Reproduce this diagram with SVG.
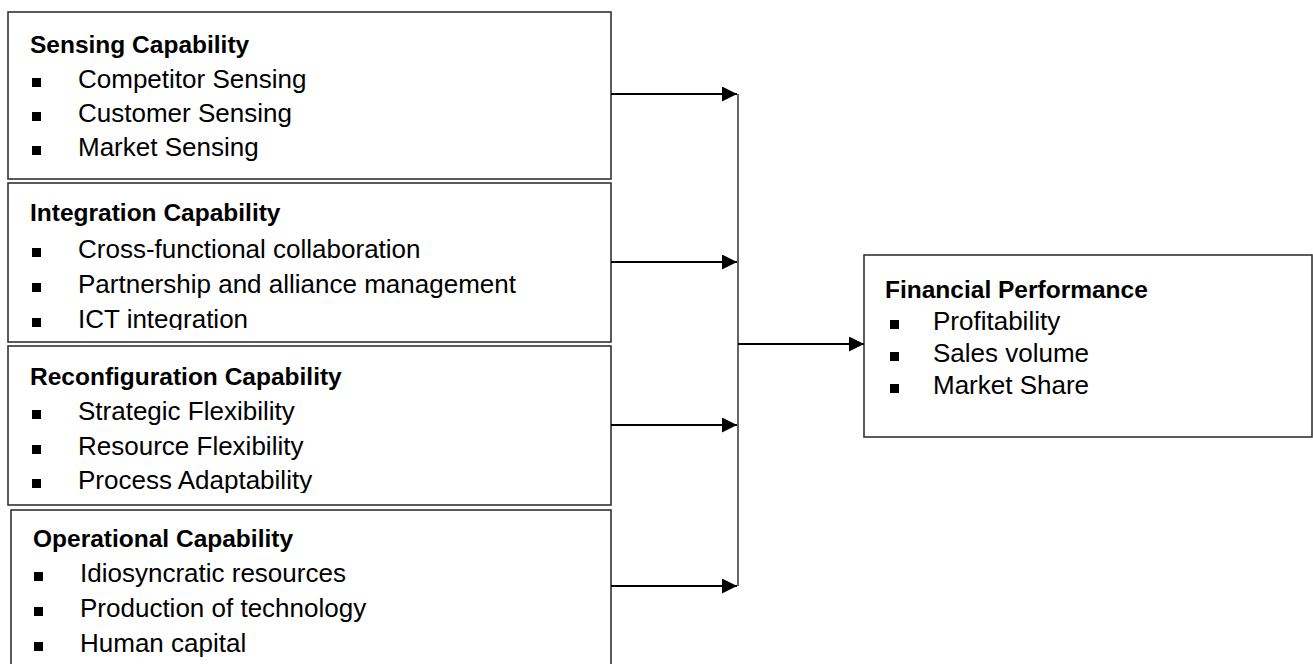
<svg xmlns="http://www.w3.org/2000/svg" width="1313" height="664" viewBox="0 0 1313 664">
<style>
.box{fill:#fff;stroke:#333;stroke-width:1.6}
.t{font-family:"Liberation Sans",Arial,sans-serif;font-weight:bold;font-size:24.5px;fill:#000}
.i{font-family:"Liberation Sans",Arial,sans-serif;font-size:26px;fill:#000}
.b{fill:#000}
.c{stroke:#000;stroke-width:2;fill:none}
.v{stroke:#333;stroke-width:1.5;fill:none}
</style>
<defs>
<marker id="ah" markerWidth="15" markerHeight="15" viewBox="0 0 15 15" refX="15" refY="7.5" orient="auto" markerUnits="userSpaceOnUse">
<path d="M0,0 L15,7.5 L0,15 Z" fill="#000"/>
</marker>
<clipPath id="c2"><rect x="8" y="183" width="604" height="147"/></clipPath>
<clipPath id="c3"><rect x="8" y="346" width="604" height="147"/></clipPath>
</defs>
<g id="sensing">
<rect class="box" x="8" y="12" width="603" height="167"/>
<text class="t" x="30" y="53">Sensing Capability</text>
<rect class="b" x="32" y="78" width="9" height="9"/><text class="i" x="78" y="88">Competitor Sensing</text>
<rect class="b" x="32" y="112" width="9" height="9"/><text class="i" x="78" y="122">Customer Sensing</text>
<rect class="b" x="32" y="146" width="9" height="9"/><text class="i" x="78" y="156">Market Sensing</text>
</g>
<g id="integration">
<rect class="box" x="8" y="183" width="603" height="159"/>
<g clip-path="url(#c2)">
<text class="t" x="30" y="221">Integration Capability</text>
<rect class="b" x="32" y="248" width="9" height="9"/><text class="i" x="78" y="258">Cross-functional collaboration</text>
<rect class="b" x="32" y="283" width="9" height="9"/><text class="i" x="78" y="293">Partnership and alliance management</text>
<rect class="b" x="32" y="318" width="9" height="9"/><text class="i" x="78" y="328">ICT integration</text>
</g>
</g>
<g id="reconfiguration">
<rect class="box" x="8" y="346" width="603" height="159"/>
<g clip-path="url(#c3)">
<text class="t" x="30" y="385">Reconfiguration Capability</text>
<rect class="b" x="32" y="410" width="9" height="9"/><text class="i" x="78" y="420">Strategic Flexibility</text>
<rect class="b" x="32" y="445" width="9" height="9"/><text class="i" x="78" y="455">Resource Flexibility</text>
<rect class="b" x="32" y="479" width="9" height="9"/><text class="i" x="78" y="489">Process Adaptability</text>
</g>
</g>
<g id="operational">
<rect class="box" x="11" y="510" width="600" height="170"/>
<text class="t" x="33" y="547">Operational Capability</text>
<rect class="b" x="34" y="572" width="9" height="9"/><text class="i" x="80" y="582">Idiosyncratic resources</text>
<rect class="b" x="34" y="607" width="9" height="9"/><text class="i" x="80" y="617">Production of technology</text>
<rect class="b" x="34" y="642" width="9" height="9"/><text class="i" x="80" y="652">Human capital</text>
</g>
<g id="financial">
<rect class="box" x="864" y="255" width="448" height="182"/>
<text class="t" x="885" y="298">Financial Performance</text>
<rect class="b" x="890" y="320" width="9" height="9"/><text class="i" x="933" y="330">Profitability</text>
<rect class="b" x="890" y="352" width="9" height="9"/><text class="i" x="933" y="362">Sales volume</text>
<rect class="b" x="890" y="384" width="9" height="9"/><text class="i" x="933" y="394">Market Share</text>
</g>
<g id="connectors">
<line class="v" x1="738" y1="94" x2="738" y2="586"/>
<line class="c" x1="611" y1="94" x2="737" y2="94" marker-end="url(#ah)"/>
<line class="c" x1="611" y1="262" x2="737" y2="262" marker-end="url(#ah)"/>
<line class="c" x1="611" y1="425" x2="737" y2="425" marker-end="url(#ah)"/>
<line class="c" x1="611" y1="586" x2="737" y2="586" marker-end="url(#ah)"/>
<line class="c" x1="738" y1="344" x2="864" y2="344" marker-end="url(#ah)"/>
</g>
</svg>
